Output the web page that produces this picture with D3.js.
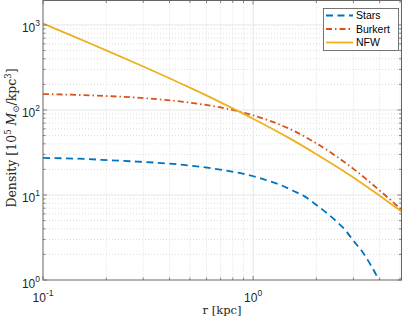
<!DOCTYPE html>
<html>
<head>
<meta charset="utf-8">
<script src="https://cdn.jsdelivr.net/npm/d3@7"></script>
<style>
  body { margin: 0; background: #fff; }
  svg { display: block; }
</style>
</head>
<body>
<svg id="chart" width="403" height="320"></svg>
<script>
// values (r in kpc, density in 1e5 Msun/kpc^3)
const starsR = [0.1, 0.16, 0.21, 0.28, 0.38, 0.51, 0.67, 0.78, 0.9, 1.03, 1.18, 1.35, 1.55, 1.75, 1.97, 2.22, 2.5, 2.76, 3.0, 3.29, 3.57, 3.85, 4.0];
const starsRho = [27.3, 26.5, 25.6, 24.7, 23.6, 22.1, 20.2, 19.0, 17.7, 16.3, 14.7, 13.1, 11.2, 9.7, 7.85, 6.25, 4.85, 3.8, 2.9, 2.19, 1.6, 1.15, 0.95];
const haloR = [0.1, 0.15, 0.2, 0.3, 0.5, 0.7, 1, 1.5, 2, 3, 4, 5.08];
const burkertRho = [154, 150, 146, 138, 122, 107, 86.5, 59.5, 40.5, 20.3, 11.3, 6.7];
const nfwRho = [1040, 681, 503, 325, 183, 123, 79, 46, 30.2, 16.1, 9.8, 6.4];

const xTicks = [0.1, 1];
const xTickExp = ["-1", "0"];
const yTicks = [1, 10, 100, 1000];
const yTickExp = ["0", "1", "2", "3"];

const series = [
  { name: "Stars", r: starsR, rho: starsRho, color: "#0072BD", dash: "7,4.5" },
  { name: "Burkert", r: haloR, rho: burkertRho, color: "#D95319", dash: "6,3,1.5,3" },
  { name: "NFW", r: haloR, rho: nfwRho, color: "#EDB120", dash: null }
];

const svg = d3.select("#chart");
const mLeft = 43, mRight = 401.5, mTop = 0.5, mBottom = 280;

const x = d3.scaleLog().domain([0.1, 5.08]).range([mLeft, mRight]);
const y = d3.scaleLog().domain([1, 1940]).range([mBottom, mTop]);

// minor tick values for the log axes
function minors(domain) {
  let out = [];
  for (let e = -2; e <= 4; e++) {
    for (let m = 2; m <= 9; m++) {
      let v = m * Math.pow(10, e);
      if (v > domain[0] && v < domain[1]) out.push(+v.toPrecision(3));
    }
  }
  return out;
}
const xMinor = minors(x.domain());
const yMinor = minors(y.domain());

// grid
const grid = svg.append("g");
grid.selectAll(".xm").data(xMinor).enter().append("line")
  .attr("x1", d => x(d)).attr("x2", d => x(d)).attr("y1", mTop).attr("y2", mBottom)
  .attr("stroke", "#d4d4d4").attr("stroke-width", 0.8).attr("stroke-dasharray", "1,2");
grid.selectAll(".ym").data(yMinor).enter().append("line")
  .attr("x1", mLeft).attr("x2", mRight).attr("y1", d => y(d)).attr("y2", d => y(d))
  .attr("stroke", "#d4d4d4").attr("stroke-width", 0.8).attr("stroke-dasharray", "1,2");
grid.selectAll(".xM").data(xTicks.slice(1)).enter().append("line")
  .attr("x1", d => x(d)).attr("x2", d => x(d)).attr("y1", mTop).attr("y2", mBottom)
  .attr("stroke", "#e6e6e6").attr("stroke-width", 1);
grid.selectAll(".yM").data(yTicks.slice(1)).enter().append("line")
  .attr("x1", mLeft).attr("x2", mRight).attr("y1", d => y(d)).attr("y2", d => y(d))
  .attr("stroke", "#e6e6e6").attr("stroke-width", 1);

// curves
svg.append("clipPath").attr("id", "clip").append("rect")
  .attr("x", mLeft).attr("y", mTop).attr("width", mRight - mLeft).attr("height", mBottom - mTop);

const line = d3.line().curve(d3.curveMonotoneX);
const plot = svg.append("g").attr("clip-path", "url(#clip)");
series.forEach(s => {
  plot.append("path")
    .attr("d", line(s.r.map((r, i) => [x(r), y(s.rho[i])])))
    .attr("fill", "none")
    .attr("stroke", s.color)
    .attr("stroke-width", 1.8)
    .attr("stroke-dasharray", s.dash);
});

// axes box and ticks
const axisColor = "#666";
svg.append("rect").attr("x", mLeft).attr("y", mTop).attr("width", mRight - mLeft).attr("height", mBottom - mTop)
  .attr("fill", "none").attr("stroke", axisColor).attr("stroke-width", 1);

const ticks = svg.append("g").attr("stroke", axisColor).attr("stroke-width", 0.8);
function xTickMarks(vals, len) {
  vals.forEach(v => {
    ticks.append("line").attr("x1", x(v)).attr("x2", x(v)).attr("y1", mBottom).attr("y2", mBottom - len);
    ticks.append("line").attr("x1", x(v)).attr("x2", x(v)).attr("y1", mTop).attr("y2", mTop + len);
  });
}
function yTickMarks(vals, len) {
  vals.forEach(v => {
    ticks.append("line").attr("y1", y(v)).attr("y2", y(v)).attr("x1", mLeft).attr("x2", mLeft + len);
    ticks.append("line").attr("y1", y(v)).attr("y2", y(v)).attr("x1", mRight).attr("x2", mRight - len);
  });
}
xTickMarks(xTicks, 4);
xTickMarks(xMinor, 2.5);
yTickMarks(yTicks, 4);
yTickMarks(yMinor, 2.5);

const tickFont = "'Liberation Sans', Arial, sans-serif";
xTicks.forEach((v, i) => {
  const t = svg.append("text").attr("x", x(v)).attr("y", 302)
    .attr("text-anchor", "middle").attr("font-family", tickFont).attr("font-size", 12).attr("fill", "#262626");
  t.append("tspan").text("10");
  t.append("tspan").attr("dy", -6).attr("font-size", 8.5).text(xTickExp[i]);
});
yTicks.forEach((v, i) => {
  const t = svg.append("text").attr("x", 40).attr("y", y(v) + 7.5)
    .attr("text-anchor", "end").attr("font-family", tickFont).attr("font-size", 12).attr("fill", "#262626");
  t.append("tspan").text("10");
  t.append("tspan").attr("dy", -6).attr("font-size", 8.5).text(yTickExp[i]);
});

// axis labels
const serif = "'DejaVu Serif', 'Liberation Serif', serif";
svg.append("text").attr("x", 222).attr("y", 314).attr("text-anchor", "middle")
  .attr("font-family", serif).attr("font-size", 11.5).attr("fill", "#262626")
  .text("r [kpc]");

const yl = svg.append("text").attr("transform", "translate(15.5,138) rotate(-90)")
  .attr("text-anchor", "middle").attr("font-family", serif).attr("font-size", 12.5).attr("fill", "#262626");
yl.append("tspan").text("Density [10");
yl.append("tspan").attr("dy", -5).attr("font-size", 8.5).text("5");
yl.append("tspan").attr("dy", 5).text(" ");
yl.append("tspan").attr("font-style", "italic").text("M");
yl.append("tspan").attr("dy", 3).attr("font-size", 8.5).text("\u2299");
yl.append("tspan").attr("dy", -3).text("/kpc");
yl.append("tspan").attr("dy", -5).attr("font-size", 8.5).text("3");
yl.append("tspan").attr("dy", 5).text("]");

// legend
const lg = svg.append("g");
lg.append("rect").attr("x", 323.5).attr("y", 8.5).attr("width", 75).attr("height", 42)
  .attr("fill", "#fff").attr("stroke", "#555").attr("stroke-width", 0.8);
series.forEach((s, i) => {
  const ly = 15.5 + i * 13.5;
  lg.append("line").attr("x1", 326).attr("x2", 353).attr("y1", ly).attr("y2", ly)
    .attr("stroke", s.color).attr("stroke-width", 1.8).attr("stroke-dasharray", s.dash);
  lg.append("text").attr("x", 356).attr("y", ly + 3.8)
    .attr("font-family", tickFont).attr("font-size", 10.5).attr("fill", "#000")
    .text(s.name);
});
</script>
</body>
</html>
